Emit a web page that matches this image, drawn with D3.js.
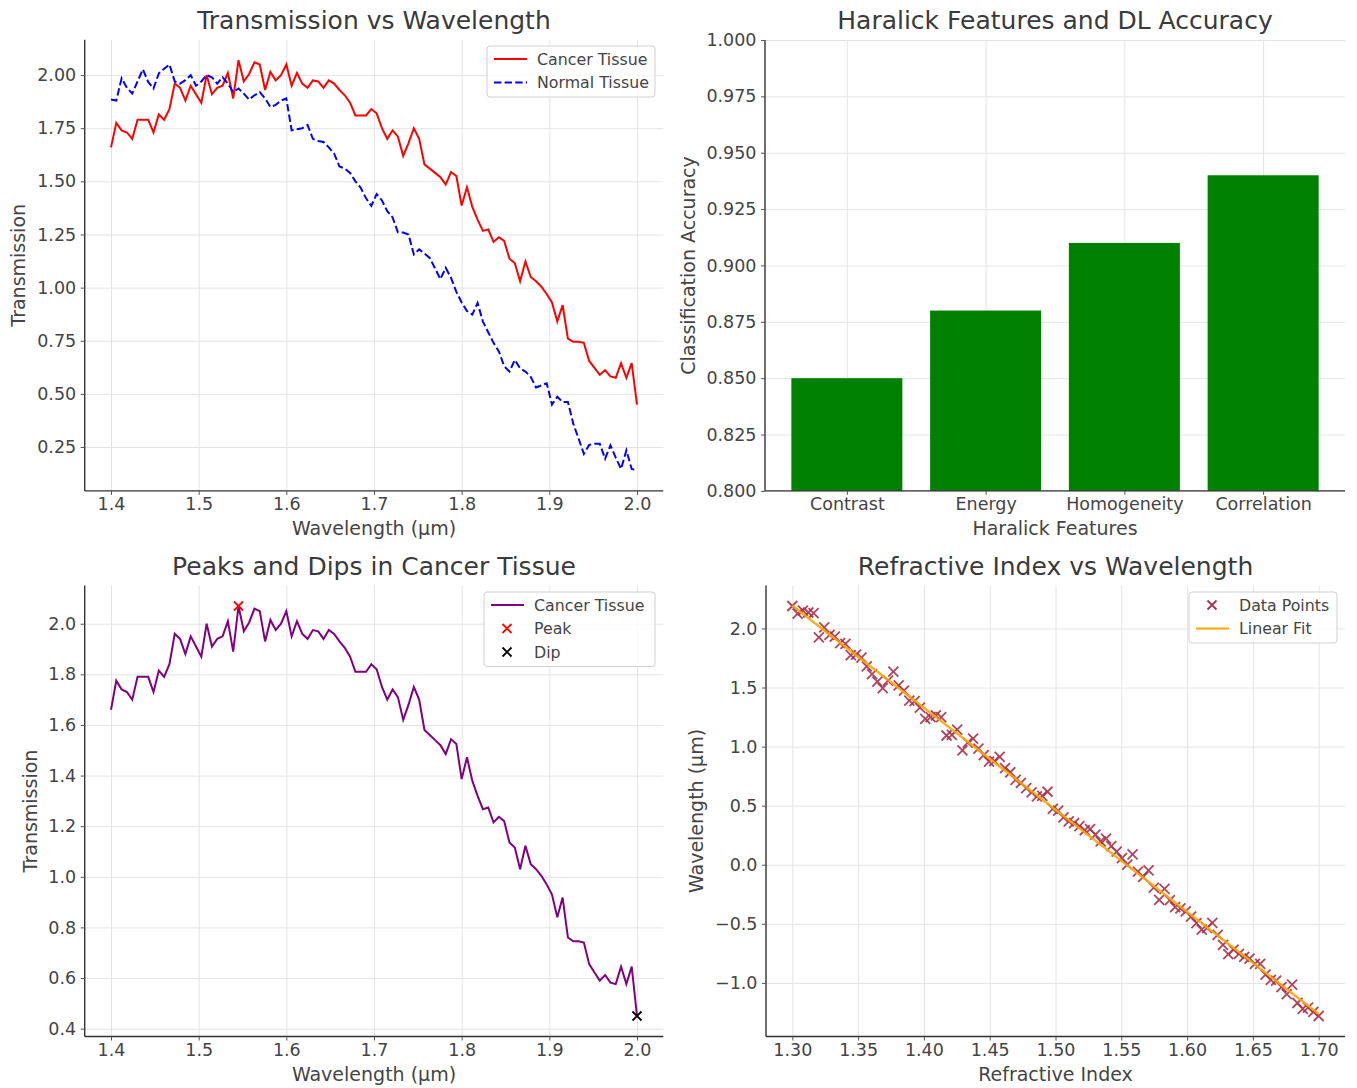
<!DOCTYPE html>
<html>
<head>
<meta charset="utf-8">
<script src="https://cdn.jsdelivr.net/npm/d3@7"></script>
<style>
  body { margin: 0; background: #fff; }
  svg { display: block; font-family: "DejaVu Sans", sans-serif; }
</style>
</head>
<body>
<svg id="fig" width="1357" height="1088"></svg>
<script>
// ---- data ----
// wavelength grid (100 evenly spaced samples, 1.4 .. 2.0 µm)
const wlStart = 1.4, wlEnd = 2.0, wlCount = 100;
const wavelength = d3.range(wlCount).map(i => wlStart + i * (wlEnd - wlStart) / (wlCount - 1));

const cancerTissue = [
  1.66, 1.775, 1.74, 1.73, 1.70, 1.79, 1.79, 1.79, 1.73, 1.815,
  1.79, 1.84, 1.96, 1.94, 1.88, 1.95, 1.91, 1.87, 2.00, 1.91,
  1.94, 1.95, 2.01, 1.89, 2.07, 1.97, 2.005, 2.06, 2.05, 1.93,
  2.015, 1.975, 2.00, 2.05, 1.95, 2.01, 1.96, 1.94, 1.975, 1.97,
  1.94, 1.975, 1.96, 1.93, 1.905, 1.87, 1.81, 1.81, 1.81, 1.84,
  1.82, 1.75, 1.70, 1.74, 1.71, 1.62, 1.68, 1.75, 1.70, 1.58,
  1.56, 1.54, 1.52, 1.485, 1.544, 1.525, 1.386, 1.472, 1.38, 1.32,
  1.267, 1.274, 1.215, 1.237, 1.22, 1.136, 1.116, 1.03, 1.123, 1.05,
  1.03, 1.004, 0.97, 0.93, 0.84, 0.918, 0.76, 0.745, 0.745, 0.74,
  0.655, 0.622, 0.59, 0.612, 0.582, 0.576, 0.645, 0.576, 0.645, 0.45
];

const normalTissue = [
  1.885, 1.88, 1.985, 1.94, 1.913, 1.97, 2.027, 1.968, 1.937, 2.008,
  2.03, 2.05, 1.97, 1.96, 1.976, 2.0, 1.95, 1.97, 2.0, 1.99,
  1.96, 1.99, 1.96, 1.92, 1.937, 1.913, 1.885, 1.905, 1.92, 1.89,
  1.85, 1.86, 1.88, 1.89, 1.74, 1.745, 1.75, 1.765, 1.70, 1.69,
  1.685, 1.66, 1.63, 1.57, 1.56, 1.54, 1.50, 1.47, 1.42, 1.385,
  1.44, 1.41, 1.36, 1.33, 1.26, 1.259, 1.25, 1.156, 1.18, 1.16,
  1.14, 1.09, 1.04, 1.093, 1.046, 0.98, 0.93, 0.89, 0.873, 0.928,
  0.84, 0.79, 0.74, 0.70, 0.63, 0.605, 0.66, 0.62, 0.605, 0.58,
  0.53, 0.54, 0.55, 0.45, 0.486, 0.462, 0.462, 0.36, 0.29, 0.218,
  0.26, 0.265, 0.265, 0.195, 0.258, 0.20, 0.147, 0.234, 0.147, 0.14
];

const haralickFeatures = ["Contrast", "Energy", "Homogeneity", "Correlation"];
const dlAccuracy = [0.85, 0.88, 0.91, 0.94];

// refractive index grid (100 evenly spaced samples, 1.30 .. 1.70)
const riStart = 1.3, riEnd = 1.7, riCount = 100;
const refractiveIndex = d3.range(riCount).map(i => riStart + i * (riEnd - riStart) / (riCount - 1));
const riWavelength = [
  2.19, 2.125, 2.15, 2.135, 2.13, 1.925, 2.01, 1.945, 1.93, 1.875,
  1.87, 1.774, 1.779, 1.754, 1.679, 1.614, 1.549, 1.494, 1.559, 1.634,
  1.519, 1.474, 1.389, 1.384, 1.329, 1.234, 1.249, 1.264, 1.249, 1.094,
  1.099, 1.143, 0.968, 1.033, 1.068, 0.983, 0.928, 0.873, 0.878, 0.913,
  0.818, 0.783, 0.718, 0.693, 0.648, 0.613, 0.578, 0.583, 0.618, 0.473,
  0.458, 0.402, 0.367, 0.352, 0.327, 0.292, 0.302, 0.256, 0.197, 0.222,
  0.157, 0.112, 0.057, 0.002, 0.087, -0.058, -0.103, -0.048, -0.193, -0.298,
  -0.204, -0.299, -0.359, -0.369, -0.394, -0.439, -0.494, -0.549, -0.534, -0.492,
  -0.594, -0.679, -0.757, -0.719, -0.754, -0.779, -0.794, -0.839, -0.839, -0.929,
  -0.974, -0.98, -1.035, -1.095, -1.015, -1.17, -1.22, -1.21, -1.245, -1.28
];

const wlTicks = [1.4, 1.5, 1.6, 1.7, 1.8, 1.9, 2.0];
const transTicks = [0.25, 0.5, 0.75, 1.0, 1.25, 1.5, 1.75, 2.0];
const accTicks = [0.8, 0.825, 0.85, 0.875, 0.9, 0.925, 0.95, 0.975, 1.0];
const peakTicks = [0.4, 0.6, 0.8, 1.0, 1.2, 1.4, 1.6, 1.8, 2.0];
const riTicks = [1.3, 1.35, 1.4, 1.45, 1.5, 1.55, 1.6, 1.65, 1.7];
const riWlTicks = [-1.0, -0.5, 0.0, 0.5, 1.0, 1.5, 2.0];

// ---- drawing ----
const svg = d3.select("#fig");
svg.append("rect").attr("width", 1357).attr("height", 1088).attr("fill", "#fff");

const TEXT = "#444";
const GRID = "#e4e4e4";

function frame(box, x, y, xTicks, yTicks, xFmt, yFmt, xGridVals) {
  const g = svg.append("g");
  // grid
  g.append("g").attr("transform", `translate(0,${box.bottom})`)
    .call(d3.axisBottom(x).tickValues(xGridVals || xTicks).tickSize(-(box.bottom - box.top)).tickFormat(""))
    .call(a => a.select(".domain").remove())
    .call(a => a.selectAll("line").attr("stroke", GRID).attr("stroke-width", 1));
  g.append("g").attr("transform", `translate(${box.left},0)`)
    .call(d3.axisLeft(y).tickValues(yTicks).tickSize(-(box.right - box.left)).tickFormat(""))
    .call(a => a.select(".domain").remove())
    .call(a => a.selectAll("line").attr("stroke", GRID).attr("stroke-width", 1));
  const marks = svg.append("g");
  // axes
  const ax = svg.append("g").attr("transform", `translate(0,${box.bottom})`)
    .call(d3.axisBottom(x).tickValues(xTicks).tickFormat(xFmt).tickSize(4).tickPadding(3).tickSizeOuter(0));
  const ay = svg.append("g").attr("transform", `translate(${box.left},0)`)
    .call(d3.axisLeft(y).tickValues(yTicks).tickFormat(yFmt).tickSize(4).tickPadding(4.5).tickSizeOuter(0));
  [ax, ay].forEach(a => {
    a.select(".domain").attr("stroke", "#333").attr("stroke-width", 1.4);
    a.selectAll(".tick line").attr("stroke", "#555");
    a.selectAll("text").attr("font-size", 17.5).attr("fill", TEXT).attr("font-family", "DejaVu Sans");
  });
  // the domain path should span the full box
  ax.select(".domain").attr("d", `M${box.left},0H${box.right}`);
  ay.select(".domain").attr("d", `M0,${box.top}V${box.bottom}`);
  return marks;
}

function labels(box, title, xl, yl, ylx) {
  const cx = (box.left + box.right) / 2, cy = (box.top + box.bottom) / 2;
  svg.append("text").attr("x", cx).attr("y", box.top - 11).attr("text-anchor", "middle")
    .attr("font-size", 25).attr("fill", "#3a3a3a").text(title);
  svg.append("text").attr("x", cx).attr("y", box.bottom + 44).attr("text-anchor", "middle")
    .attr("font-size", 19).attr("fill", TEXT).text(xl);
  svg.append("text").attr("transform", `translate(${ylx},${cy}) rotate(-90)`).attr("text-anchor", "middle")
    .attr("font-size", 19).attr("fill", TEXT).text(yl);
}

function legend(x0, y0, w, rows) {
  const h = rows.length * 23.5 + 4;
  const g = svg.append("g");
  g.append("rect").attr("x", x0).attr("y", y0).attr("width", w).attr("height", h).attr("rx", 3)
    .attr("fill", "#fff").attr("fill-opacity", 0.8).attr("stroke", "#d0d0d0");
  rows.forEach((r, i) => {
    const cy = y0 + 13 + i * 23.5;
    if (r.type === "line") {
      g.append("line").attr("x1", x0 + 7).attr("x2", x0 + 40).attr("y1", cy).attr("y2", cy)
        .attr("stroke", r.color).attr("stroke-width", r.width || 2).attr("stroke-dasharray", r.dash || null);
    } else {
      cross(g, x0 + 23, cy, r.color, r.opacity || 1, 4.5);
    }
    g.append("text").attr("x", x0 + 50).attr("y", cy + 5.5).attr("font-size", 15.8).attr("fill", TEXT).text(r.label);
  });
}

function cross(g, cx, cy, color, op, s) {
  g.append("path").attr("d", `M${cx - s},${cy - s}L${cx + s},${cy + s}M${cx - s},${cy + s}L${cx + s},${cy - s}`)
    .attr("stroke", color).attr("stroke-width", 1.8).attr("stroke-opacity", op).attr("fill", "none");
}

const f1 = d3.format(".1f"), f2 = d3.format(".2f"), f3 = d3.format(".3f");

// ---- panel 1: Transmission vs Wavelength ----
{
  const box = { left: 84.7, right: 663.3, top: 39.7, bottom: 490.9 };
  const x = d3.scaleLinear().domain([1.37, 2.03]).range([box.left, box.right]);
  const allY = cancerTissue.concat(normalTissue);
  const [lo, hi] = d3.extent(allY), pad = (hi - lo) * 0.05;
  const y = d3.scaleLinear().domain([lo - pad, hi + pad]).range([box.bottom, box.top]);
  const g = frame(box, x, y, wlTicks, transTicks, f1, f2);
  const line = d3.line().x((d, i) => x(wavelength[i])).y(d => y(d));
  g.append("path").datum(cancerTissue).attr("d", line).attr("fill", "none").attr("stroke", "red").attr("stroke-width", 2);
  g.append("path").datum(normalTissue).attr("d", line).attr("fill", "none").attr("stroke", "blue")
    .attr("stroke-width", 2).attr("stroke-dasharray", "7.4,3.2");
  labels(box, "Transmission vs Wavelength", "Wavelength (µm)", "Transmission", 25);
  legend(487, 46, 168, [
    { type: "line", color: "red", label: "Cancer Tissue" },
    { type: "line", color: "blue", dash: "7.4,3.2", label: "Normal Tissue" }
  ]);
}

// ---- panel 2: Haralick Features and DL Accuracy ----
{
  const box = { left: 765, right: 1345, top: 40, bottom: 490.9 };
  const x = d3.scaleBand().domain(haralickFeatures).range([box.left, box.right]).paddingInner(0.2).paddingOuter(0.19);
  const y = d3.scaleLinear().domain([0.8, 1.0]).range([box.bottom, box.top]);
  const xc = d3.scalePoint().domain(haralickFeatures).range([x(haralickFeatures[0]) + x.bandwidth() / 2,
    x(haralickFeatures[3]) + x.bandwidth() / 2]);
  const g = frame(box, xc, y, haralickFeatures, accTicks, d => d, f3);
  g.selectAll("rect").data(dlAccuracy).join("rect")
    .attr("x", (d, i) => x(haralickFeatures[i])).attr("width", x.bandwidth())
    .attr("y", d => y(d)).attr("height", d => y(0.8) - y(d)).attr("fill", "green");
  labels(box, "Haralick Features and DL Accuracy", "Haralick Features", "Classification Accuracy", 695);
}

// ---- panel 3: Peaks and Dips in Cancer Tissue ----
{
  const box = { left: 84.7, right: 663.3, top: 585.5, bottom: 1036.5 };
  const x = d3.scaleLinear().domain([1.37, 2.03]).range([box.left, box.right]);
  const [lo, hi] = d3.extent(cancerTissue), pad = (hi - lo) * 0.05;
  const y = d3.scaleLinear().domain([lo - pad, hi + pad]).range([box.bottom, box.top]);
  const g = frame(box, x, y, wlTicks, peakTicks, f1, f1);
  const line = d3.line().x((d, i) => x(wavelength[i])).y(d => y(d));
  g.append("path").datum(cancerTissue).attr("d", line).attr("fill", "none").attr("stroke", "purple").attr("stroke-width", 2);
  const iPeak = d3.maxIndex(cancerTissue), iDip = d3.minIndex(cancerTissue);
  cross(g, x(wavelength[iPeak]), y(cancerTissue[iPeak]), "red", 1, 4.5);
  cross(g, x(wavelength[iDip]), y(cancerTissue[iDip]), "black", 1, 4.5);
  labels(box, "Peaks and Dips in Cancer Tissue", "Wavelength (µm)", "Transmission", 37);
  legend(484, 592, 171, [
    { type: "line", color: "purple", label: "Cancer Tissue" },
    { type: "cross", color: "red", label: "Peak" },
    { type: "cross", color: "black", label: "Dip" }
  ]);
}

// ---- panel 4: Refractive Index vs Wavelength ----
{
  const box = { left: 766, right: 1345, top: 585.5, bottom: 1036.5 };
  const x = d3.scaleLinear().domain([1.28, 1.72]).range([box.left, box.right]);
  const [lo, hi] = d3.extent(riWavelength), pad = (hi - lo) * 0.05;
  const y = d3.scaleLinear().domain([lo - pad, hi + pad]).range([box.bottom, box.top]);
  const g = frame(box, x, y, riTicks, riWlTicks, f2, f1);
  refractiveIndex.forEach((r, i) => cross(g, x(r), y(riWavelength[i]), "#a8304a", 0.9, 5));
  // least-squares linear fit
  const mx = d3.mean(refractiveIndex), my = d3.mean(riWavelength);
  const slope = d3.sum(refractiveIndex, (r, i) => (r - mx) * (riWavelength[i] - my)) /
    d3.sum(refractiveIndex, r => (r - mx) * (r - mx));
  const icpt = my - slope * mx;
  g.append("path").datum(refractiveIndex).attr("fill", "none").attr("stroke", "orange").attr("stroke-width", 2.4)
    .attr("stroke-opacity", 0.9)
    .attr("d", d3.line().x(r => x(r)).y(r => y(icpt + slope * r)));
  labels(box, "Refractive Index vs Wavelength", "Refractive Index", "Wavelength (µm)", 703);
  legend(1189, 592, 148, [
    { type: "cross", color: "#a8304a", label: "Data Points" },
    { type: "line", color: "orange", label: "Linear Fit" }
  ]);
}
</script>
</body>
</html>
